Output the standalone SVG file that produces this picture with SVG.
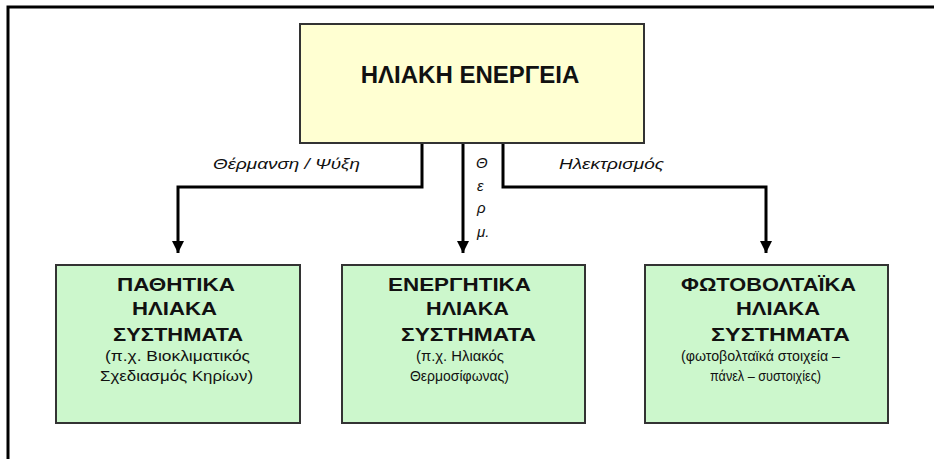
<svg xmlns="http://www.w3.org/2000/svg" width="934" height="459" viewBox="0 0 934 459">
  <style>
    .frame { fill: none; stroke: #000; stroke-width: 3; }
    .top { fill: #FFFFD2; stroke: #333; stroke-width: 2; }
    .sys { fill: #CCF7CC; stroke: #333; stroke-width: 2; }
    .title { font-family: "Liberation Sans", Arial, sans-serif; font-weight: bold; font-size: 24px; fill: #111; text-anchor: middle; }
    .head { font-family: "Liberation Sans", Arial, sans-serif; font-weight: bold; font-size: 18.5px; fill: #111; }
    .sub { font-family: "Liberation Sans", Arial, sans-serif; font-size: 15.5px; fill: #111; }
    .lbl { font-family: "Liberation Sans", Arial, sans-serif; font-style: italic; font-size: 15px; fill: #111; }
    .conn { fill: none; stroke: #000; stroke-width: 3; }
  </style>
  <defs>
    <marker id="arrow" markerUnits="userSpaceOnUse" markerWidth="12" markerHeight="14" refX="12" refY="6" orient="auto" viewBox="0 0 12 12">
      <path d="M0,0 L12,6 L0,12 Z" fill="#000"/>
    </marker>
  </defs>

  <path class="frame" d="M8,459 L8,7 L934,7"/>

  <g id="connectors">
    <path class="conn" d="M422,143 L422,187 L178,187 L178,253" marker-end="url(#arrow)"/>
    <path class="conn" d="M463,143 L463,253" marker-end="url(#arrow)"/>
    <path class="conn" d="M503,143 L503,187 L766,187 L766,253" marker-end="url(#arrow)"/>
    <text class="lbl" x="213" y="169" textLength="147" lengthAdjust="spacingAndGlyphs">Θέρμανση / Ψύξη</text>
    <text class="lbl" x="559" y="169" textLength="105" lengthAdjust="spacingAndGlyphs">Ηλεκτρισμός</text>
    <text class="lbl" x="476" y="168">Θ</text>
    <text class="lbl" x="477" y="191">ε</text>
    <text class="lbl" x="477" y="213">ρ</text>
    <text class="lbl" x="477" y="237">μ.</text>
  </g>

  <g id="solar-energy">
    <rect class="top" x="300" y="24" width="344" height="119"/>
    <text class="title" x="470" y="83">ΗΛΙΑΚΗ ΕΝΕΡΓΕΙΑ</text>
  </g>

  <g id="passive">
    <rect class="sys" x="56" y="265" width="244" height="158"/>
    <text class="head" x="117" y="291" textLength="118" lengthAdjust="spacingAndGlyphs">ΠΑΘΗΤΙΚΑ</text>
    <text class="head" x="132" y="315" textLength="85" lengthAdjust="spacingAndGlyphs">ΗΛΙΑΚΑ</text>
    <text class="head" x="113" y="341" textLength="130" lengthAdjust="spacingAndGlyphs">ΣΥΣΤΗΜΑΤΑ</text>
    <text class="sub" x="105" y="361" textLength="145" lengthAdjust="spacingAndGlyphs">(π.χ. Βιοκλιματικός</text>
    <text class="sub" x="100" y="381" textLength="153" lengthAdjust="spacingAndGlyphs">Σχεδιασμός Κηρίων)</text>
  </g>

  <g id="active">
    <rect class="sys" x="342" y="265" width="243" height="158"/>
    <text class="head" x="388" y="291" textLength="143" lengthAdjust="spacingAndGlyphs">ΕΝΕΡΓΗΤΙΚΑ</text>
    <text class="head" x="426" y="315" textLength="83" lengthAdjust="spacingAndGlyphs">ΗΛΙΑΚΑ</text>
    <text class="head" x="401" y="341" textLength="135" lengthAdjust="spacingAndGlyphs">ΣΥΣΤΗΜΑΤΑ</text>
    <text class="sub" x="416" y="361" textLength="88" lengthAdjust="spacingAndGlyphs">(π.χ. Ηλιακός</text>
    <text class="sub" x="410" y="381" textLength="99" lengthAdjust="spacingAndGlyphs">Θερμοσίφωνας)</text>
  </g>

  <g id="photovoltaic">
    <rect class="sys" x="645" y="265" width="243" height="158"/>
    <text class="head" x="681" y="291" textLength="175" lengthAdjust="spacingAndGlyphs">ΦΩΤΟΒΟΛΤΑΪΚΑ</text>
    <text class="head" x="736" y="315" textLength="84" lengthAdjust="spacingAndGlyphs">ΗΛΙΑΚΑ</text>
    <text class="head" x="711" y="341" textLength="139" lengthAdjust="spacingAndGlyphs">ΣΥΣΤΗΜΑΤΑ</text>
    <text class="sub" x="681" y="361" textLength="159" lengthAdjust="spacingAndGlyphs">(φωτοβολταϊκά στοιχεία –</text>
    <text class="sub" x="710" y="381" textLength="111" lengthAdjust="spacingAndGlyphs">πάνελ – συστοιχίες)</text>
  </g>
</svg>
